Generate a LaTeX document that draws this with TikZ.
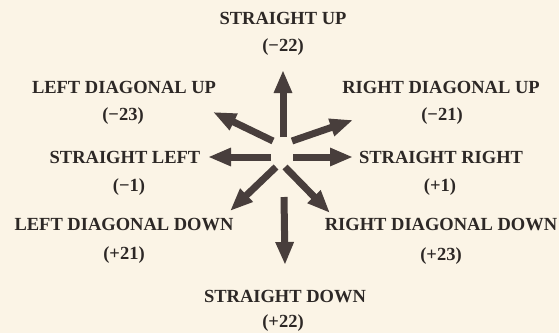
\documentclass[tikz,border=0pt]{standalone}
\usepackage{fontspec}
\setmainfont{Liberation Serif}
\usetikzlibrary{arrows.meta}
\definecolor{bg}{RGB}{251,244,230}
\definecolor{ink}{RGB}{45,40,38}
\definecolor{arr}{RGB}{72,62,60}
\tikzset{
  lbl/.style={text=ink, font=\fontsize{18.5}{20}\selectfont\bfseries, inner sep=0pt, anchor=center},
  dirarrow/.style={draw=arr, line width=7pt, -{Triangle[width=17pt,length=23pt]}}
}
\begin{document}
\begin{tikzpicture}[x=1pt,y=-1pt]
\fill[bg] (0,0) rectangle (559,333);
\useasboundingbox (0,0) rectangle (559,333);
% labels
\node[lbl] (su) at (283,18) {STRAIGHT UP};
\node[lbl] (sun) at (283,47) {(−22)};
\node[lbl] (ldu) at (124,87) {LEFT DIAGONAL UP};
\node[lbl] (ldun) at (123,116) {(−23)};
\node[lbl] (rdu) at (441,87) {RIGHT DIAGONAL UP};
\node[lbl] (rdun) at (442,116) {(−21)};
\node[lbl] (sl) at (125,157) {STRAIGHT LEFT};
\node[lbl] (sln) at (129,187) {(−1)};
\node[lbl] (sr) at (441,157) {STRAIGHT RIGHT};
\node[lbl] (srn) at (440,187) {(+1)};
\node[lbl] (ldd) at (124,225) {LEFT DIAGONAL DOWN};
\node[lbl] (lddn) at (124,255) {(+21)};
\node[lbl] (rdd) at (441,225) {RIGHT DIAGONAL DOWN};
\node[lbl] (rddn) at (441,256) {(+23)};
\node[lbl] (sd) at (285,297) {STRAIGHT DOWN};
\node[lbl] (sdn) at (283,323) {(+22)};
% arrow coordinates
\coordinate (aUs) at (283,137);  \coordinate (aUe) at (283,70);
\coordinate (aRUs) at (292,141); \coordinate (aRUe) at (353,120);
\coordinate (aRs) at (293,157);  \coordinate (aRe) at (353,157);
\coordinate (aRDs) at (285,167); \coordinate (aRDe) at (330,213);
\coordinate (aDs) at (284,197);  \coordinate (aDe) at (285,265);
\coordinate (aLDs) at (276,167); \coordinate (aLDe) at (230,211);
\coordinate (aLs) at (271,157);  \coordinate (aLe) at (208,157);
\coordinate (aLUs) at (273,141); \coordinate (aLUe) at (213,112);
\draw[dirarrow] (aUs) -- (aUe);
\draw[dirarrow] (aRUs) -- (aRUe);
\draw[dirarrow] (aRs) -- (aRe);
\draw[dirarrow] (aRDs) -- (aRDe);
\draw[dirarrow] (aDs) -- (aDe);
\draw[dirarrow] (aLDs) -- (aLDe);
\draw[dirarrow] (aLs) -- (aLe);
\draw[dirarrow] (aLUs) -- (aLUe);
\end{tikzpicture}
\end{document}
